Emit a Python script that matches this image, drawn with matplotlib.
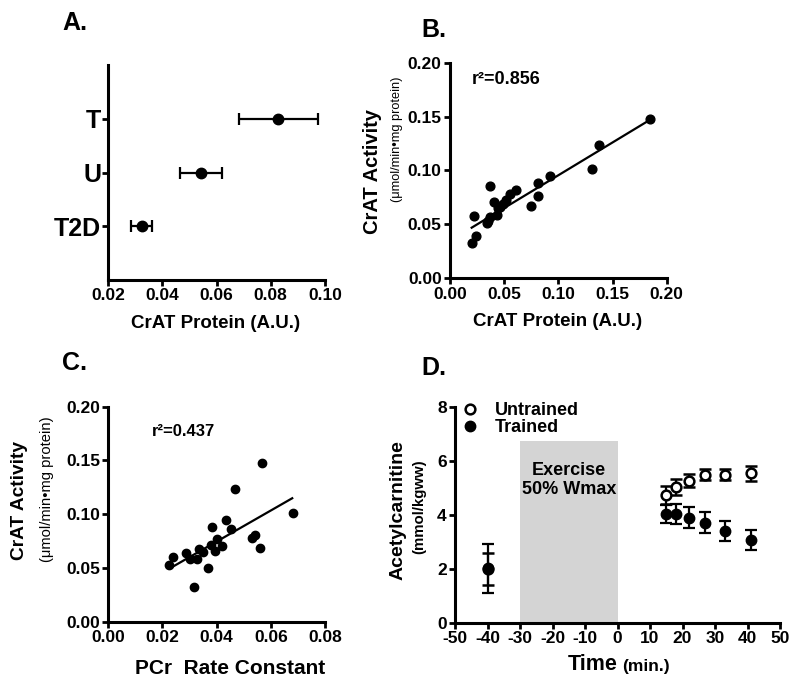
import numpy as np
import matplotlib
matplotlib.use('Agg')
import matplotlib.pyplot as plt
from matplotlib.ticker import FormatStrFormatter

plt.rcParams['font.family'] = ['Liberation Sans', 'DejaVu Sans']
plt.rcParams['font.weight'] = 'bold'
plt.rcParams['axes.unicode_minus'] = False

# ---- data ----
# A: CrAT protein per group
groups = ['T2D', 'U', 'T']
protein_mean = [0.0324, 0.0542, 0.0828]
protein_err = [0.0039, 0.0078, 0.0146]

# B: CrAT activity vs CrAT protein
b_protein = [0.1847, 0.1373, 0.1311, 0.0923, 0.0815, 0.0809, 0.0751, 0.0607, 0.0554, 0.0369,
             0.0514, 0.0409, 0.0492, 0.0446, 0.0431, 0.0369, 0.0338, 0.0222, 0.0237, 0.0200,
             0.0462, 0.0354]
b_activity = [0.1478, 0.1237, 0.1017, 0.0946, 0.0887, 0.0763, 0.0674, 0.0816, 0.0782, 0.0853,
              0.0726, 0.0705, 0.0689, 0.0649, 0.0587, 0.0571, 0.0510, 0.0578, 0.0392, 0.0325,
              0.0664, 0.0532]
b_fit = (0.608, 0.0348)   # slope, intercept
b_fit_range = (0.020, 0.1853)
b_r2 = 'r²=0.856'

# C: CrAT activity vs PCr rate constant
c_pcr = [0.0567, 0.0466, 0.0683, 0.0434, 0.0381, 0.0454, 0.0541, 0.0529, 0.0560, 0.0402,
         0.0378, 0.0421, 0.0394, 0.0351, 0.0336, 0.0287, 0.0302, 0.0328, 0.0240, 0.0225,
         0.0367, 0.0316]
c_activity = [0.1479, 0.1231, 0.1014, 0.0946, 0.0884, 0.0860, 0.0807, 0.0782, 0.0683, 0.0767,
              0.0711, 0.0704, 0.0658, 0.0651, 0.0673, 0.0642, 0.0580, 0.0586, 0.0599, 0.0530,
              0.0502, 0.0320]
c_fit = (1.444, 0.0168)
c_fit_range = (0.0228, 0.0679)
c_r2 = 'r²=0.437'

# D: acetylcarnitine time course
time = [-40, 15, 18, 22, 27, 33, 41]
untrained = [2.0, 4.75, 5.05, 5.28, 5.49, 5.49, 5.55]
untrained_err = [0.6, 0.33, 0.3, 0.25, 0.2, 0.2, 0.27]
trained = [2.02, 4.03, 4.03, 3.90, 3.72, 3.41, 3.07]
trained_err = [0.9, 0.33, 0.37, 0.38, 0.38, 0.37, 0.37]
exercise_span = (-30, 0)
exercise_top = 6.75

W, H = 800, 688
fig = plt.figure(figsize=(8, 6.88), dpi=100)


def ax_at(l, t, r, b):
    return fig.add_axes([l / W, 1 - b / H, (r - l) / W, (b - t) / H])


def ftext(x, y, s, **kw):
    fig.text(x / W, 1 - y / H, s, **kw)


def style(ax):
    for s in ['top', 'right']:
        ax.spines[s].set_visible(False)
    for s in ['left', 'bottom']:
        ax.spines[s].set_linewidth(2.2)
    ax.tick_params(width=2, length=4, labelsize=12.5, pad=2)


# ---- A ----
axA = ax_at(108, 65, 325, 280)
style(axA)
axA.errorbar(protein_mean, [1, 2, 3], xerr=protein_err, fmt='o', color='black',
             ms=7.5, elinewidth=1.6, capsize=4.3, capthick=1.6)
axA.set_xlim(0.02, 0.10)
axA.set_ylim(0, 4)
axA.set_xticks([0.02, 0.04, 0.06, 0.08, 0.10])
axA.xaxis.set_major_formatter(FormatStrFormatter('%.2f'))
axA.set_yticks([1, 2, 3])
axA.set_yticklabels(groups, fontsize=18)
axA.tick_params(axis='y', pad=1)
ftext(216, 323, 'CrAT Protein (A.U.)', ha='center', va='center', fontsize=13.5)
ftext(62, 23, 'A.', ha='left', va='center', fontsize=18)

# ---- B ----
axB = ax_at(450, 62.7, 666.7, 278.3)
style(axB)
axB.plot(b_protein, b_activity, 'o', color='black', ms=6.3)
xf = np.array(b_fit_range)
axB.plot(xf, b_fit[0] * xf + b_fit[1], color='black', lw=1.6)
axB.set_xlim(0, 0.20)
axB.set_ylim(0, 0.20)
axB.set_xticks(np.arange(0, 0.201, 0.05))
axB.set_yticks(np.arange(0, 0.201, 0.05))
axB.xaxis.set_major_formatter(FormatStrFormatter('%.2f'))
axB.yaxis.set_major_formatter(FormatStrFormatter('%.2f'))
ftext(472, 80, b_r2, ha='left', va='center', fontsize=13)
ftext(558, 322, 'CrAT Protein (A.U.)', ha='center', va='center', fontsize=13.5)
ftext(372, 171, 'CrAT Activity', rotation=90, ha='center', va='center', fontsize=14.5)
ftext(397, 139, '(μmol/min•mg protein)', rotation=90, ha='center', va='center',
      fontsize=9.2, fontweight='normal')
ftext(421, 30, 'B.', ha='left', va='center', fontsize=18)

# ---- C ----
axC = ax_at(108.3, 406.7, 325, 621.7)
style(axC)
axC.plot(c_pcr, c_activity, 'o', color='black', ms=6)
xf = np.array(c_fit_range)
axC.plot(xf, c_fit[0] * xf + c_fit[1], color='black', lw=1.6)
axC.set_xlim(0, 0.08)
axC.set_ylim(0, 0.20)
axC.set_xticks(np.arange(0, 0.081, 0.02))
axC.set_yticks(np.arange(0, 0.201, 0.05))
axC.xaxis.set_major_formatter(FormatStrFormatter('%.2f'))
axC.yaxis.set_major_formatter(FormatStrFormatter('%.2f'))
ftext(152, 432, c_r2, ha='left', va='center', fontsize=12)
ftext(230, 668, 'PCr  Rate Constant', ha='center', va='center', fontsize=15)
ftext(20, 501, 'CrAT Activity', rotation=90, ha='center', va='center', fontsize=13.8)
ftext(47, 489, '(μmol/min•mg protein)', rotation=90, ha='center', va='center',
      fontsize=10.6, fontweight='normal')
ftext(62, 363, 'C.', ha='left', va='center', fontsize=18)

# ---- D ----
axD = ax_at(455, 407.3, 780, 622.7)
style(axD)
axD.bar((exercise_span[0] + exercise_span[1]) / 2, exercise_top,
        width=exercise_span[1] - exercise_span[0], color='#d4d4d4', zorder=0)
axD.text(-15, 5.3, 'Exercise\n50% Wmax', ha='center', va='center', fontsize=13)
eb_u = axD.errorbar(time, untrained, yerr=untrained_err, fmt='o', color='black',
                    mfc='white', mec='black', mew=1.8, ms=7, elinewidth=1.6,
                    capsize=4, capthick=1.6)
eb_t = axD.errorbar(time, trained, yerr=trained_err, fmt='o', color='black', ms=7.5,
                    elinewidth=1.6, capsize=4, capthick=1.6)
axD.legend([eb_u[0], eb_t[0]], ['Untrained', 'Trained'], loc='upper left',
           bbox_to_anchor=(-0.01, 1.065), frameon=False, handlelength=1.0,
           handletextpad=0.9, labelspacing=0.0, borderpad=0, fontsize=13)
axD.set_xlim(-50, 50)
axD.set_ylim(0, 8)
axD.set_xticks(np.arange(-50, 51, 10))
axD.set_yticks([0, 2, 4, 6, 8])
ftext(568, 665, 'Time', ha='left', va='center', fontsize=15.5)
ftext(622, 667, '(min.)', ha='left', va='center', fontsize=12.5)
ftext(398, 510, 'Acetylcarnitine', rotation=90, ha='center', va='center', fontsize=14)
ftext(419, 507, '(mmol/kgww)', rotation=90, ha='center', va='center', fontsize=10.8)
ftext(421, 368, 'D.', ha='left', va='center', fontsize=18)

fig.savefig('out.png', dpi=100)
